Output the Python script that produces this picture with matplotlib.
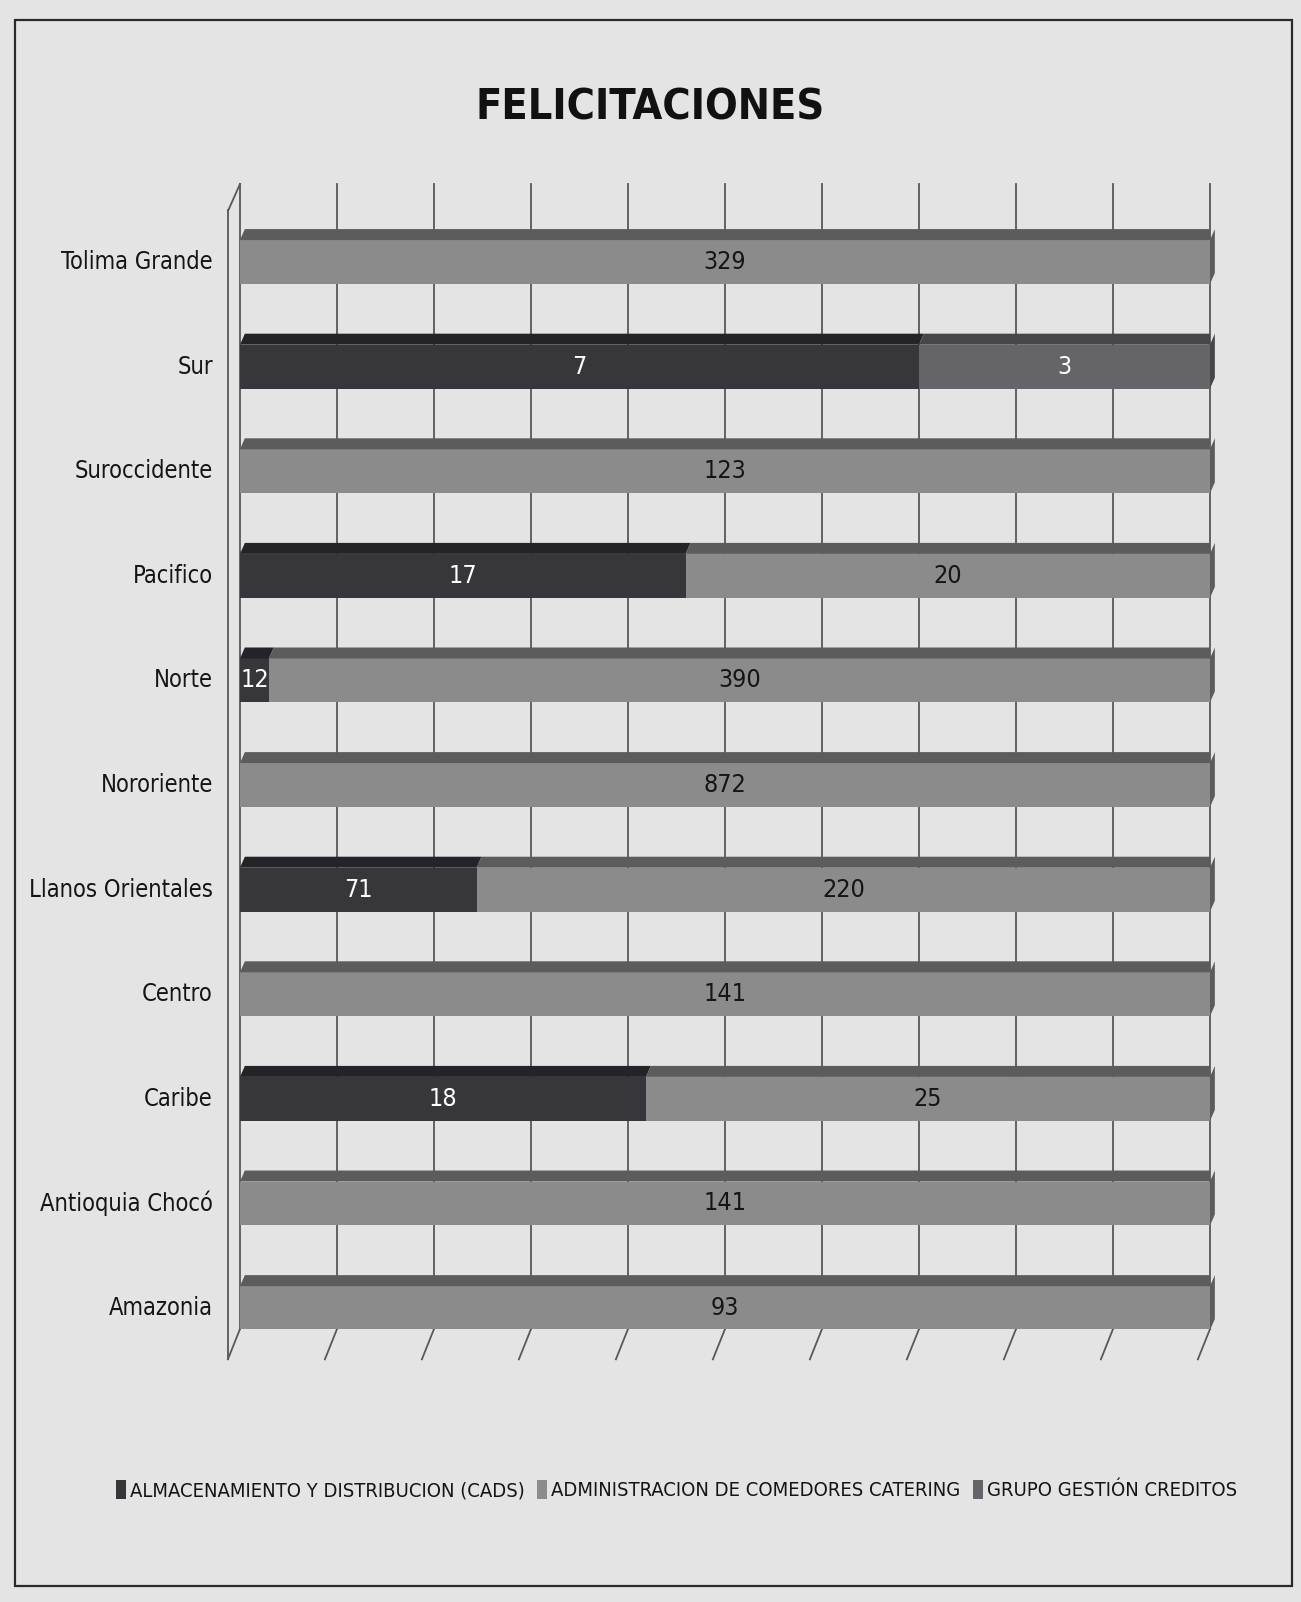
import matplotlib
matplotlib.use("Agg")
import matplotlib.pyplot as plt
from matplotlib.patches import Polygon, Rectangle, Patch
import numpy as np

plt.rcParams['font.family'] = ['DejaVu Sans']
plt.rcParams['font.stretch'] = 'condensed'

# ---- data ----
categories = ['Tolima Grande', 'Sur', 'Suroccidente', 'Pacifico', 'Norte', 'Nororiente',
              'Llanos Orientales', 'Centro', 'Caribe', 'Antioquia Chocó', 'Amazonia']
cads = [0, 7, 0, 17, 12, 0, 71, 0, 18, 0, 0]
catering = [329, 0, 123, 20, 390, 872, 220, 141, 25, 141, 93]
creditos = [0, 3, 0, 0, 0, 0, 0, 0, 0, 0, 0]
series_names = ['ALMACENAMIENTO Y DISTRIBUCION (CADS)',
                'ADMINISTRACION DE COMEDORES CATERING',
                'GRUPO GESTIÓN CREDITOS']
ticks = list(range(0, 101, 10))

# ---- style ----
bg = '#e4e4e4'
face_colors = ['#36363b', '#8b8b8b', '#646469']
top_colors = ['#242428', '#5c5c5c', '#46464a']
text_colors = ['white', '#151515', 'white']
grid_col = '#585858'

W, H = 1301, 1602
fig = plt.figure(figsize=(W / 100, H / 100), dpi=100, facecolor=bg)

# outer frame
fig.add_artist(Rectangle((15 / W, 1 - 1586 / H), (1292 - 15) / W, (1586 - 20) / H,
                         transform=fig.transFigure, fill=False, ec='#2a2a2a', lw=1.6))

ax = fig.add_axes([240 / W, 1 - 1329 / H, 970 / W, (1329 - 184) / H])
ax.set_facecolor('none')
ax.set_xlim(0, 100)
y0, y1 = -0.2, 10.746
ax.set_ylim(y0, y1)
ax.axis('off')

# back-wall gridlines with floor slants
sx, sy = 1.25, 0.29
for t in ticks:
    ax.plot([t, t], [y0, y1], color=grid_col, lw=1.3, zorder=1, clip_on=False)
    ax.plot([t, t - sx], [y0, y0 - sy], color=grid_col, lw=1.3, zorder=1, clip_on=False)
ax.plot([-1.2, -1.2], [y0 - sy, y1 - 0.25], color=grid_col, lw=1.3, zorder=1, clip_on=False)
ax.plot([-1.2, 0], [y1 - 0.25, y1], color=grid_col, lw=1.3, zorder=1, clip_on=False)

vals = np.array([cads, catering, creditos], dtype=float)
totals = vals.sum(axis=0)
pct = vals / totals * 100
ypos = np.arange(len(categories))[::-1]
h = 0.42
dh = 0.105
dx = 0.5

left = np.zeros(len(categories))
for s in range(3):
    for i, y in enumerate(ypos):
        w = pct[s, i]
        if w <= 0:
            continue
        l = left[i]
        ax.barh(y, w, left=l, height=h, color=face_colors[s], edgecolor='none', zorder=3)
        ax.add_patch(Polygon([(l, y + h / 2), (l + w, y + h / 2),
                              (l + w + dx, y + h / 2 + dh), (l + dx, y + h / 2 + dh)],
                             closed=True, fc=top_colors[s], ec='none', zorder=3))
        ax.text(l + w / 2, y, f'{int(vals[s, i])}', ha='center', va='center',
                fontsize=18, color=text_colors[s], zorder=5)
    left += pct[s]

# right end caps
for i, y in enumerate(ypos):
    last = max(s for s in range(3) if pct[s, i] > 0)
    ax.add_patch(Polygon([(100, y - h / 2), (100, y + h / 2), (100 + dx, y + h / 2 + dh),
                          (100 + dx, y - h / 2 + dh)], closed=True,
                         fc=top_colors[last], ec='none', zorder=3, clip_on=False))

for cat, y in zip(categories, ypos):
    ax.text(-2.8, y, cat, ha='right', va='center', fontsize=17, color='#151515')

fig.text(0.5, 1 - 107 / H, 'FELICITACIONES', ha='center', va='center',
         fontsize=31, fontweight='bold', color='#111111')

handles = [Patch(facecolor=face_colors[s], edgecolor='none') for s in range(3)]
fig.legend(handles, series_names, loc='center', bbox_to_anchor=(0.52, 1 - 1490 / H),
           ncol=3, frameon=False, fontsize=14.5, handlelength=0.5, handleheight=1.1,
           handletextpad=0.2, columnspacing=0.6, labelcolor='#151515')

fig.savefig('out.png', dpi=100, facecolor=bg)
